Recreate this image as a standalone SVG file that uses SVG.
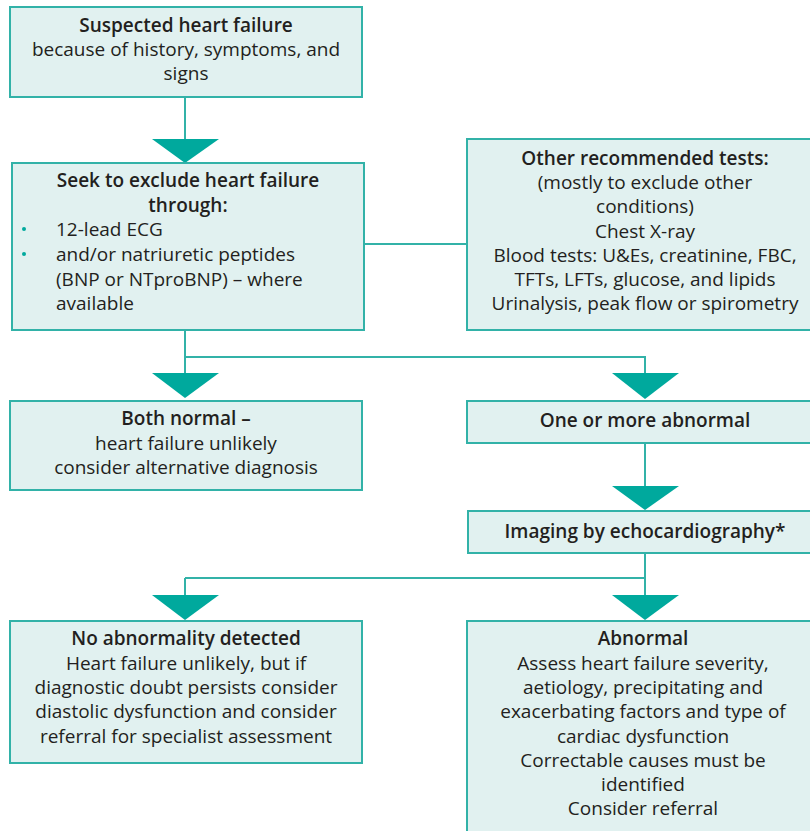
<svg xmlns="http://www.w3.org/2000/svg" width="810" height="831" viewBox="0 0 810 831">
<style>
.box{fill:#e1f1f0;stroke:#32b2a8;stroke-width:2}
.ln{stroke:#32b2a8;stroke-width:2;fill:none}
.ar{fill:#00a99d}
text{font-family:"Open Sans","Liberation Sans",Arial,sans-serif;font-size:19px;fill:#231f20}
.c{text-anchor:middle}
.b{font-weight:600}
.dot{fill:#00a99d}
</style>
<rect width="810" height="831" fill="#ffffff"/>
<g id="connectors">
<path class="ln" d="M185 97V141M185 330V375M185 357H645V375M364 244H467M645 443V488M645 553V597M185 578H645M185 578V597"/>
<polygon class="ar" points="152,139 219,139 185,163"/>
<polygon class="ar" points="152,373 219,373 185,398"/>
<polygon class="ar" points="612,373 679,373 645,399"/>
<polygon class="ar" points="612,486 679,486 645,510"/>
<polygon class="ar" points="152,595 219,595 185,620"/>
<polygon class="ar" points="612,595 679,595 645,620"/>
</g>
<g id="suspected">
<rect class="box" x="10" y="7" width="352" height="90"/>
<text class="c b" x="186" y="32">Suspected heart failure</text>
<text class="c" x="186" y="56">because of history, symptoms, and</text>
<text class="c" x="186" y="80">signs</text>
</g>
<g id="seek">
<rect class="box" x="12" y="163" width="352" height="167"/>
<text class="c b" x="188" y="187">Seek to exclude heart failure</text>
<text class="c b" x="188" y="212">through:</text>
<circle class="dot" cx="24" cy="229" r="2"/>
<text x="56" y="236">12-lead ECG</text>
<circle class="dot" cx="24" cy="254" r="2"/>
<text x="56" y="261">and/or natriuretic peptides</text>
<text x="56" y="286">(BNP or NTproBNP) – where</text>
<text x="56" y="310">available</text>
</g>
<g id="other">
<rect class="box" x="467" y="139" width="346" height="191"/>
<text class="c b" x="645" y="165">Other recommended tests:</text>
<text class="c" x="645" y="189">(mostly to exclude other</text>
<text class="c" x="645" y="213">conditions)</text>
<text class="c" x="645" y="238">Chest X-ray</text>
<text class="c" x="645" y="262">Blood tests: U&amp;Es, creatinine, FBC,</text>
<text class="c" x="645" y="286">TFTs, LFTs, glucose, and lipids</text>
<text class="c" x="645" y="310">Urinalysis, peak flow or spirometry</text>
</g>
<g id="bothnormal">
<rect class="box" x="10" y="401" width="352" height="89"/>
<text class="c b" x="186" y="425">Both normal –</text>
<text class="c" x="186" y="450">heart failure unlikely</text>
<text class="c" x="186" y="474">consider alternative diagnosis</text>
</g>
<g id="abnormal1">
<rect class="box" x="467" y="401" width="346" height="42"/>
<text class="c b" x="645" y="427">One or more abnormal</text>
</g>
<g id="imaging">
<rect class="box" x="468" y="511" width="345" height="42"/>
<text class="c b" x="645" y="538">Imaging by echocardiography*</text>
</g>
<g id="noabnormality">
<rect class="box" x="10" y="621" width="352" height="142"/>
<text class="c b" x="186" y="645">No abnormality detected</text>
<text class="c" x="186" y="670">Heart failure unlikely, but if</text>
<text class="c" x="186" y="694">diagnostic doubt persists consider</text>
<text class="c" x="186" y="718">diastolic dysfunction and consider</text>
<text class="c" x="186" y="743">referral for specialist assessment</text>
</g>
<g id="abnormal2">
<rect class="box" x="467" y="621" width="346" height="214"/>
<text class="c b" x="643" y="645">Abnormal</text>
<text class="c" x="643" y="670">Assess heart failure severity,</text>
<text class="c" x="643" y="694">aetiology, precipitating and</text>
<text class="c" x="643" y="718">exacerbating factors and type of</text>
<text class="c" x="643" y="743">cardiac dysfunction</text>
<text class="c" x="643" y="767">Correctable causes must be</text>
<text class="c" x="643" y="791">identified</text>
<text class="c" x="643" y="815">Consider referral</text>
</g>
</svg>
